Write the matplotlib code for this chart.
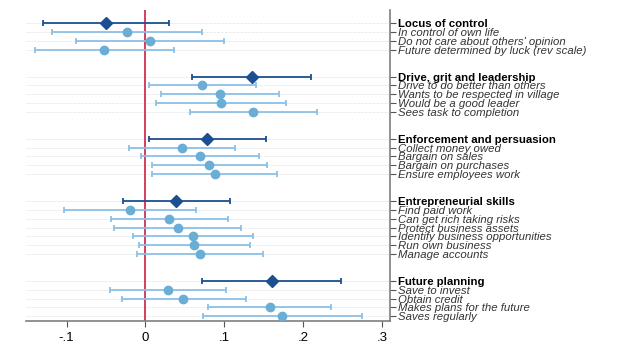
import matplotlib
matplotlib.use("Agg")
import matplotlib.pyplot as plt
import numpy as np

plt.rcParams['font.family'] = ['Liberation Sans', 'DejaVu Sans']

groups = ["Locus of control", "Drive, grit and leadership", "Enforcement and persuasion",
          "Entrepreneurial skills", "Future planning"]

group_est = [-0.050, 0.135, 0.078, 0.039, 0.161]
group_lo = [-0.130, 0.0585, 0.004, -0.029, 0.072]
group_hi = [0.030, 0.210, 0.1525, 0.107, 0.248]

items = [
    ["In control of own life", "Do not care about others' opinion", "Future determined by luck (rev scale)"],
    ["Drive to do better than others", "Wants to be respected in village", "Would be a good leader", "Sees task to completion"],
    ["Collect money owed", "Bargain on sales", "Bargain on purchases", "Ensure employees work"],
    ["Find paid work", "Can get rich taking risks", "Protect business assets", "Identify business opportunities",
     "Run own business", "Manage accounts"],
    ["Save to invest", "Obtain credit", "Makes plans for the future", "Saves regularly"],
]
item_est = [
    [-0.024, 0.006, -0.052],
    [0.072, 0.095, 0.096, 0.137],
    [0.046, 0.0695, 0.081, 0.088],
    [-0.019, 0.0305, 0.041, 0.060, 0.062, 0.0695],
    [0.029, 0.048, 0.1585, 0.174],
]
item_lo = [
    [-0.119, -0.088, -0.140],
    [0.004, 0.020, 0.013, 0.056],
    [-0.021, -0.005, 0.008, 0.0085],
    [-0.103, -0.044, -0.040, -0.016, -0.008, -0.0105],
    [-0.045, -0.030, 0.080, 0.073],
]
item_hi = [
    [0.072, 0.100, 0.0365],
    [0.140, 0.170, 0.179, 0.218],
    [0.114, 0.144, 0.154, 0.167],
    [0.064, 0.105, 0.121, 0.1365, 0.133, 0.1496],
    [0.1025, 0.1275, 0.236, 0.275],
]

xticks = [-0.1, 0, 0.1, 0.2, 0.3]
xticklabels = ["-.1", "0", ".1", ".2", ".3"]

dark = "#1b4f91"
light_dot = "#6aaed6"
light_line = "#8cc0e6"
red = "#d1304d"

fig = plt.figure(figsize=(6.23, 3.56), dpi=100)
ax = fig.add_axes([0.0417, 0.099, 0.585, 0.873])

row = 0
ytick_pos, ytick_lab, ytick_bold = [], [], []
for g in range(len(groups)):
    ax.axhline(row, color="#ececec", lw=0.7, ls=(0, (3, 1)), zorder=0)
    ax.errorbar(group_est[g], row,
                xerr=[[group_est[g] - group_lo[g]], [group_hi[g] - group_est[g]]],
                fmt="D", color=dark, ms=6.5, elinewidth=1.3, capsize=2.5, capthick=1.3, zorder=4)
    ytick_pos.append(row); ytick_lab.append(groups[g]); ytick_bold.append(True)
    row += 1
    for i in range(len(items[g])):
        ax.axhline(row, color="#ececec", lw=0.7, ls=(0, (3, 1)), zorder=0)
        ax.errorbar(item_est[g][i], row,
                    xerr=[[item_est[g][i] - item_lo[g][i]], [item_hi[g][i] - item_est[g][i]]],
                    fmt="none", ecolor=light_line, elinewidth=1.3, capsize=2.5, capthick=1.3, zorder=2)
        ax.plot(item_est[g][i], row, "o", color=light_dot, ms=6, zorder=3)
        ytick_pos.append(row); ytick_lab.append(items[g][i]); ytick_bold.append(False)
        row += 1
    row += 2

last = row - 3
ax.set_ylim(last + 0.5, -1.5)
ax.set_xlim(-0.1516, 0.311)
ax.axvline(0, color=red, lw=1.3, zorder=1)

ax.set_xticks(xticks)
ax.set_xticklabels(xticklabels, fontsize=9.5)
ax.yaxis.tick_right()
ax.set_yticks(ytick_pos)
ax.set_yticklabels(ytick_lab, fontsize=8.2)
for lab, b in zip(ax.get_yticklabels(), ytick_bold):
    if b:
        lab.set_fontweight("bold")
        lab.set_color("black")
    else:
        lab.set_fontstyle("italic")
        lab.set_color("#333333")

for s in ["top", "left"]:
    ax.spines[s].set_visible(False)
for s in ["bottom", "right"]:
    ax.spines[s].set_color("#7f7f7f")
    ax.spines[s].set_linewidth(1.2)
ax.tick_params(axis="y", length=4, width=0.8, color="#555555", pad=1.5)
ax.tick_params(axis="x", length=4, width=0.8, color="#555555", pad=4)

fig.savefig("out.png", dpi=100)
